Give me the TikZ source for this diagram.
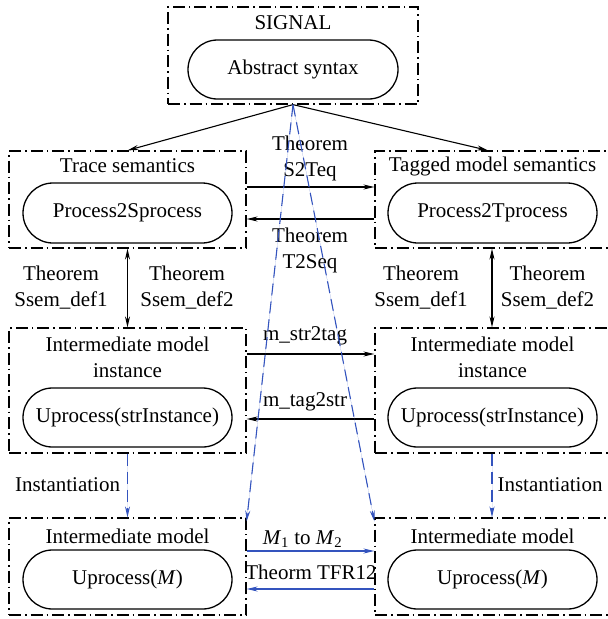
\documentclass[tikz,border=0pt]{standalone}
\usepackage{fontspec}
\setmainfont{Liberation Serif}
\usetikzlibrary{shapes.misc,arrows.meta}
\definecolor{arrblue}{RGB}{52,84,190}
\begin{document}
\begin{tikzpicture}[x=1pt,y=-1pt,
  every node/.style={font=\fontsize{21}{26}\selectfont, inner sep=0pt},
  grp/.style={draw, line width=1.2pt, dash pattern=on 12pt off 4pt on 1.5pt off 4pt, rectangle},
  pill/.style={draw, line width=1.3pt, rounded rectangle},
  arr/.style={line width=1.1pt, -{Stealth[length=11pt,width=5pt]}},
  darr/.style={line width=1.1pt, {Stealth[length=11pt,width=5pt]}-{Stealth[length=11pt,width=5pt]}},
  barr/.style={line width=1.1pt, draw=arrblue, -{Stealth[length=11pt,width=5pt]}, fill=arrblue},
  bdash/.style={barr, dash pattern=on 12pt off 6pt},
  lbl/.style={align=center}
]
\useasboundingbox (0,0) rectangle (608,619);
\clip (0,0) rectangle (608,619);
% SIGNAL
\node[grp, minimum width=250pt, minimum height=97pt] (sig) at (293,55.5) {};
\node (sigt) at (293,23) {SIGNAL};
\node[pill, minimum width=210pt, minimum height=59pt] (abs) at (293,69.5) {Abstract syntax};
% Row 1
\node[grp, minimum width=237pt, minimum height=97pt] (g1) at (127.5,199.5) {};
\node (g1t) at (127.5,166) {Trace semantics};
\node[pill, minimum width=209pt, minimum height=60pt] (p1) at (127.5,213) {Process2Sprocess};
\node[grp, minimum width=236pt, minimum height=97pt] (g2) at (493,199.5) {};
\node (g2t) at (492.5,166) {Tagged model semantics};
\node[pill, minimum width=209pt, minimum height=60pt] (p2) at (492.5,213) {Process2Tprocess};
% Row 2
\node[grp, minimum width=237pt, minimum height=125pt] (m1) at (127.5,390.5) {};
\node[lbl] (m1t) at (127.5,357) {Intermediate model\\instance};
\node[pill, minimum width=209pt, minimum height=59pt] (q1) at (127.5,417.5) {Uprocess(strInstance)};
\node[grp, minimum width=236pt, minimum height=125pt] (m2) at (493,390.5) {};
\node[lbl] (m2t) at (492.5,357) {Intermediate model\\instance};
\node[pill, minimum width=209pt, minimum height=59pt] (q2) at (492.5,417.5) {Uprocess(strInstance)};
% Row 3
\node[grp, minimum width=237pt, minimum height=97pt] (b1) at (127.5,566.5) {};
\node (b1t) at (127.5,536) {Intermediate model};
\node[pill, minimum width=209pt, minimum height=59pt] (r1) at (127.5,579.5) {Uprocess(\textit{M})};
\node[grp, minimum width=236pt, minimum height=97pt] (b2) at (493,566.5) {};
\node (b2t) at (492.5,536) {Intermediate model};
\node[pill, minimum width=209pt, minimum height=59pt] (r2) at (492.5,579.5) {Uprocess(\textit{M})};
% labels
\node[lbl] (l1) at (310,158) {Theorem\\S2Teq};
\node[lbl] (l2) at (310,250) {Theorem\\T2Seq};
\node[lbl] (l3) at (61,288) {Theorem\\Ssem\_def1};
\node[lbl] (l4) at (187,288) {Theorem\\Ssem\_def2};
\node[lbl] (l5) at (421,288) {Theorem\\Ssem\_def1};
\node[lbl] (l6) at (547.5,288) {Theorem\\Ssem\_def2};
\node (l7) at (305,336) {m\_str2tag};
\node (l8) at (305,402) {m\_tag2str};
\node (l9) at (67.5,485) {Instantiation};
\node (l10) at (550,485) {Instantiation};
\node (l11) at (302.5,539) {\textit{M}\textsubscript{1} to \textit{M}\textsubscript{2}};
\node (l12) at (311,572) {Theorm TFR12};
% connectors
\draw[arr] (sig.south) -- (g1.north);
\draw[arr] (sig.south) -- ([xshift=-5pt]g2.north);
\draw[arr] ([yshift=12.5pt]g1.east) -- ([yshift=12.5pt]g2.west);
\draw[arr] ([yshift=-19.5pt]g2.west) -- ([yshift=-19.5pt]g1.east);
\draw[darr] (g1.south) -- (m1.north);
\draw[darr] ([xshift=-1pt]g2.south) -- ([xshift=-1pt]m2.north);
\draw[arr] ([yshift=36.5pt]m1.east) -- ([yshift=36.5pt]m2.west);
\draw[arr] ([yshift=-28.5pt]m2.west) -- ([yshift=-28.5pt]m1.east);
\draw[bdash] (m1.south) -- (b1.north);
\draw[bdash] ([xshift=-1pt]m2.south) -- ([xshift=-1pt]b2.north);
\draw[barr] ([yshift=15.5pt]b1.east) -- ([yshift=15.5pt]b2.west);
\draw[barr] ([yshift=-22.5pt]b2.west) -- ([yshift=-22.5pt]b1.east);
\draw[bdash] (sig.south) -- ([yshift=-4pt]b1.north east);
\draw[bdash] (sig.south) -- ([yshift=-4pt]b2.north west);
\end{tikzpicture}
\end{document}
